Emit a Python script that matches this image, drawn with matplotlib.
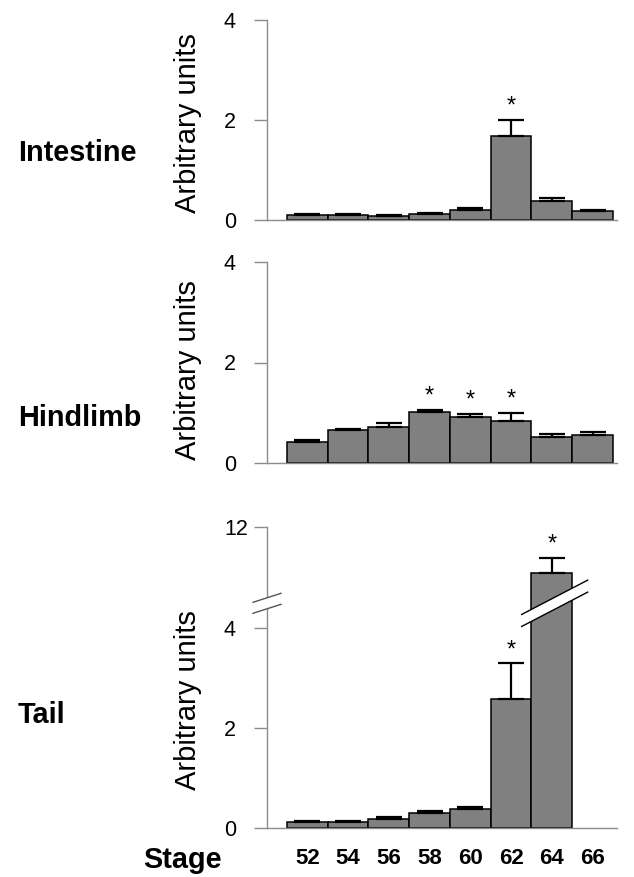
import numpy as np
import matplotlib
matplotlib.use("Agg")
import matplotlib.pyplot as plt
import matplotlib.transforms as mtransforms
from matplotlib.patches import Polygon
from matplotlib.lines import Line2D

plt.rcParams['font.family'] = ['Liberation Sans', 'DejaVu Sans']

# data
stages = ["52", "54", "56", "58", "60", "62", "64", "66"]
intestine = [0.11, 0.11, 0.09, 0.13, 0.21, 1.68, 0.39, 0.19]
intestine_err = [0.02, 0.02, 0.02, 0.02, 0.03, 0.32, 0.05, 0.02]
intestine_sig = [5]
hindlimb = [0.42, 0.65, 0.71, 1.01, 0.92, 0.83, 0.51, 0.55]
hindlimb_err = [0.03, 0.02, 0.08, 0.05, 0.05, 0.16, 0.06, 0.07]
hindlimb_sig = [3, 4, 5]
tail = [0.13, 0.13, 0.18, 0.30, 0.39, 2.59, 7.5, np.nan]
tail_err = [0.01, 0.01, 0.04, 0.05, 0.04, 0.71, 1.5, np.nan]
tail_sig = [5, 6]

BAR = "#808080"
AX = "#8c8c8c"
BRK = 4.5      # where the tail axis is broken
K = 0.2035     # compression above the break


def fwd(y):
    y = np.asarray(y, dtype=float)
    return np.where(y <= BRK, y, BRK + (y - BRK) * K)


def inv(u):
    u = np.asarray(u, dtype=float)
    return np.where(u <= BRK, u, BRK + (u - BRK) / K)


fig = plt.figure(figsize=(6.34, 8.77), dpi=100)
W, H = 634.0, 877.0


def px_axes(left, top, right, bottom):
    return fig.add_axes([left / W, 1 - bottom / H, (right - left) / W, (bottom - top) / H])


def panel(ax, vals, errs, sig, yticks):
    x = np.arange(len(vals))
    ax.bar(x, vals, width=1.0, color=BAR, edgecolor="black", linewidth=1.1, zorder=2)
    ax.errorbar(x, vals, yerr=[np.zeros(len(errs)), errs], fmt="none", ecolor="black",
                elinewidth=1.6, capsize=9.5, capthick=1.6, zorder=3)
    for i in sig:
        ax.annotate("*", (x[i], vals[i] + errs[i]), xytext=(0, 1.5), textcoords="offset points",
                    ha="center", va="bottom", fontsize=17)
    ax.set_xlim(-0.99, 7.6)
    for s in ["top", "right"]:
        ax.spines[s].set_visible(False)
    for s in ["left", "bottom"]:
        ax.spines[s].set_color(AX)
        ax.spines[s].set_linewidth(1.0)
    ax.set_yticks(yticks)
    ax.set_yticklabels([str(t) for t in yticks], fontsize=15.5, ha="left")
    ax.tick_params(axis="y", length=9.4, width=1, color=AX, pad=21.6)
    ax.tick_params(axis="x", length=0)
    ax.set_xticks([])


ax1 = px_axes(267, 20, 617, 220)
panel(ax1, intestine, intestine_err, intestine_sig, [0, 2, 4])
ax1.set_ylim(0, 4)

ax2 = px_axes(267, 262.3, 617, 462.7)
panel(ax2, hindlimb, hindlimb_err, hindlimb_sig, [0, 2, 4])
ax2.set_ylim(0, 4)

ax3 = px_axes(267, 527, 617, 828.3)
ax3.set_yscale("function", functions=(fwd, inv))
panel(ax3, tail, tail_err, tail_sig, [0, 2, 4, 12])
ax3.set_ylim(0, 12)
ax3.set_xticks(np.arange(len(stages)))
ax3.set_xticklabels(stages, fontsize=16, fontweight="bold")
ax3.tick_params(axis="x", length=0, pad=14)


# break marks, drawn in inches around a data anchor
def break_mark(ax, xdata, half_w, slope, gap, color, lw):
    t = fig.dpi_scale_trans + mtransforms.ScaledTranslation(xdata, BRK, ax.transData)
    hw = half_w / 100.0
    g = gap / 100.0 / 2
    dy = hw * slope
    poly = Polygon([(-hw, -dy - g), (hw, dy - g), (hw, dy + g), (-hw, -dy + g)],
                   closed=True, facecolor="white", edgecolor="none", transform=t,
                   zorder=5, clip_on=False)
    ax.add_patch(poly)
    for sgn in (-1, 1):
        ax.add_line(Line2D([-hw, hw], [-dy + sgn * g, dy + sgn * g], color=color, lw=lw,
                           transform=t, zorder=6, clip_on=False))


break_mark(ax3, 6.07, 33, 0.52, 12, "black", 1.0)
xl = ax3.get_xlim()[0]
break_mark(ax3, xl, 14, 0.32, 11, "#555555", 1.0)

# labels
for y, name in [(153, "Intestine"), (418, "Hindlimb"), (715, "Tail")]:
    fig.text(18 / W, 1 - y / H, name, ha="left", va="center", fontsize=20.8, fontweight="bold")
for y in [123, 370, 700]:
    fig.text(188 / W, 1 - y / H, "Arbitrary units", rotation=90, ha="center", va="center",
             fontsize=21)
fig.text(143 / W, 1 - 868 / H, "Stage", ha="left", va="baseline", fontsize=20.8, fontweight="bold")

fig.savefig("out.png", dpi=100)
